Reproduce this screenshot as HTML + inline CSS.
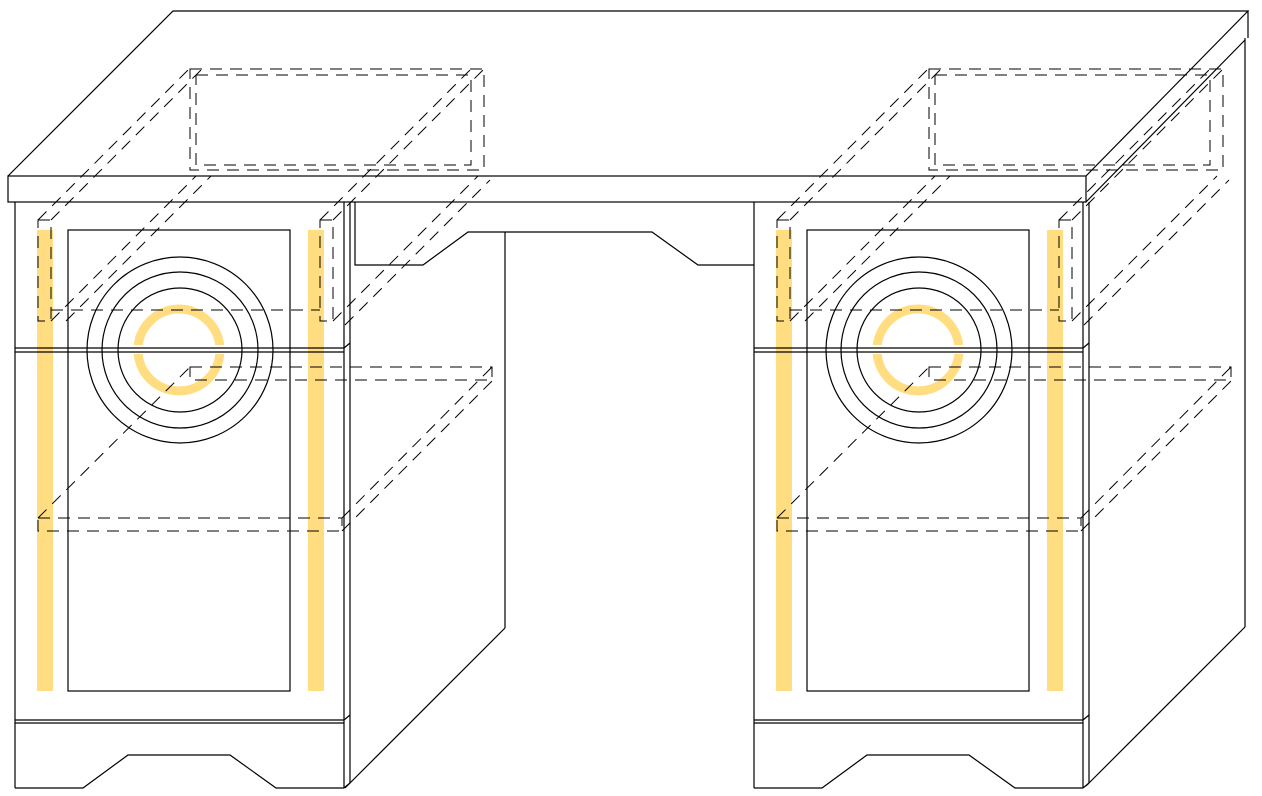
<!DOCTYPE html>
<html><head><meta charset="utf-8"><style>html,body{margin:0;padding:0;background:#fff}svg{display:block}</style></head>
<body>
<svg width="1262" height="796" viewBox="0 0 1262 796" xmlns="http://www.w3.org/2000/svg">
<defs>
<clipPath id="ringclip"><rect x="-100" y="0" width="400" height="345"/><rect x="-100" y="354" width="400" height="200"/></clipPath>
<g id="cab">
  <rect x="37" y="230" width="16" height="461" fill="#FFDD80"/>
  <rect x="308" y="230" width="16" height="461" fill="#FFDD80"/>
  <circle cx="179" cy="350" r="41" fill="none" stroke="#FFDD80" stroke-width="9" clip-path="url(#ringclip)"/>
  <g fill="none" stroke="#000" stroke-width="1.2">
    <line x1="15" y1="202" x2="15" y2="788"/>
    <line x1="344" y1="202" x2="344" y2="788"/>
    <line x1="350" y1="202" x2="350" y2="783"/>
    <line x1="15" y1="348" x2="344" y2="348"/>
    <line x1="15" y1="352" x2="344" y2="352"/>
    <line x1="344" y1="348" x2="350" y2="343"/>
    <line x1="15" y1="720" x2="344" y2="720"/>
    <line x1="15" y1="723" x2="344" y2="723"/>
    <line x1="344" y1="720" x2="350" y2="715"/>
    <polyline points="15,788 83,788 128,755 230,755 276,788 344,788"/>
    <line x1="344" y1="788" x2="350" y2="783"/>
    <rect x="68" y="230" width="222" height="461"/>
    <circle cx="180" cy="350" r="93"/>
    <circle cx="180" cy="350" r="78"/>
    <circle cx="180" cy="350" r="62"/>
  </g>
  <g fill="none" stroke="#000" stroke-width="1" stroke-dasharray="12,8">
    <rect x="38" y="220" width="13" height="101"/>
    <rect x="320" y="220" width="13" height="101"/>
    <line x1="51" y1="310" x2="320" y2="310"/>
    <rect x="190" y="367" width="302" height="13"/>
    <rect x="38" y="518" width="304" height="13"/>
    <line x1="38" y1="220" x2="190" y2="68"/>
    <line x1="51" y1="220" x2="203" y2="68"/>
    <line x1="320" y1="220" x2="472" y2="68"/>
    <line x1="333" y1="220" x2="485" y2="68"/>
    <line x1="51" y1="321" x2="196" y2="176"/>
    <line x1="66" y1="321" x2="211" y2="176"/>
    <line x1="333" y1="321" x2="478" y2="176"/>
    <line x1="345" y1="325" x2="490" y2="180"/>
    <line x1="38" y1="518" x2="190" y2="367"/>
    <line x1="342" y1="518" x2="492" y2="367"/>
    <line x1="342" y1="531" x2="492" y2="381"/>
    <rect x="190" y="69" width="294" height="101"/>
    <rect x="196" y="75" width="275" height="90"/>
  </g>
</g>
</defs>
<g fill="none" stroke="#000" stroke-width="1.2">
  <polyline points="8,176 173,11 1248,11 1086,176"/>
  <rect x="8" y="176" width="1078" height="26"/>
  <line x1="1248" y1="11" x2="1248" y2="38"/>
  <line x1="1086" y1="202" x2="1245" y2="40"/>
  <line x1="1245" y1="38" x2="1245" y2="627"/>
  <line x1="1245" y1="627" x2="1086" y2="786"/>
  <line x1="505" y1="232" x2="505" y2="628"/>
  <line x1="505" y1="628" x2="345" y2="788"/>
  <polyline points="355,202 355,265 423,265 468,232 652,232 698,265 754,265"/>
</g>
<use href="#cab"/>
<use href="#cab" transform="translate(739,0)"/>
</svg>
</body></html>
